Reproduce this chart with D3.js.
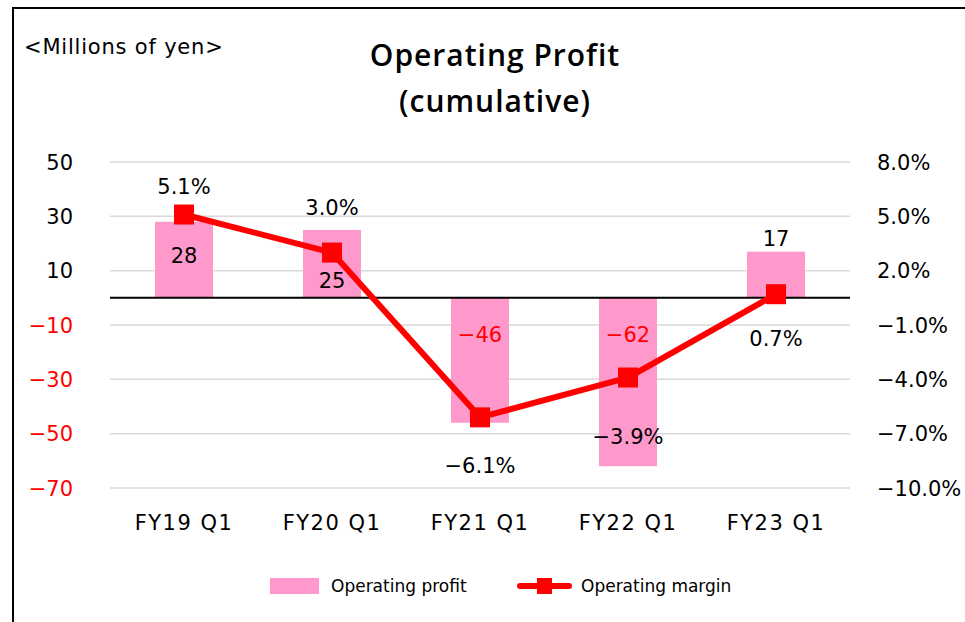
<!DOCTYPE html>
<html>
<head>
<meta charset="utf-8">
<script src="https://cdn.jsdelivr.net/npm/d3@7"></script>
<style>
  body { margin: 0; background: #fff; }
  svg text { font-family: "DejaVu Sans", sans-serif; }
  svg text.title { font-family: "Open Sans", sans-serif; font-weight: 600; letter-spacing: 1px; }
</style>
</head>
<body>
<div id="chart"></div>
<script>
var categories = ["FY19 Q1", "FY20 Q1", "FY21 Q1", "FY22 Q1", "FY23 Q1"];
var profit = [28, 25, -46, -62, 17];
var margin = [5.1, 3.0, -6.1, -3.9, 0.7];
var leftTicks = [50, 30, 10, -10, -30, -50, -70];
var rightTicks = [8, 5, 2, -1, -4, -7, -10];

var width = 965, height = 622;
var plot = { left: 110, right: 850, top: 162, bottom: 488 };

var svg = d3.select("#chart").append("svg")
   .attr("width", width)
   .attr("height", height);

// frame
svg.append("rect")
   .attr("x", 13).attr("y", 8)
   .attr("width", 1000).attr("height", 700)
   .attr("fill", "none")
   .attr("stroke", "#000")
   .attr("stroke-width", 2);

var xc = d3.scalePoint().domain(categories).range([plot.left, plot.right]).padding(0.5);
var yL = d3.scaleLinear().domain([-70, 50]).range([plot.bottom, plot.top]);
var yR = d3.scaleLinear().domain([-10, 8]).range([plot.bottom, plot.top]);

var barW = 58;
var fs = 21;

function minus(v) { return v < 0 ? "\u2212" + Math.abs(v) : "" + v; }
function pct(v) { return (v < 0 ? "\u2212" : "") + Math.abs(v).toFixed(1) + "%"; }

// gridlines
svg.append("g").selectAll("line")
   .data(leftTicks)
   .enter().append("line")
   .attr("x1", plot.left).attr("x2", plot.right)
   .attr("y1", function(d) {return yL(d)})
   .attr("y2", function(d) {return yL(d)})
   .attr("stroke", "#d9d9d9")
   .attr("stroke-width", 1.5);

// left axis labels
svg.append("g").selectAll("text")
   .data(leftTicks)
   .enter().append("text")
   .attr("x", 73)
   .attr("y", function(d) {return yL(d)})
   .attr("dy", "0.36em")
   .attr("text-anchor", "end")
   .attr("font-size", fs)
   .attr("fill", function(d) {return d < 0 ? "#ff0000" : "#000"})
   .text(minus);

// right axis labels
svg.append("g").selectAll("text")
   .data(rightTicks)
   .enter().append("text")
   .attr("x", 877)
   .attr("y", function(d) {return yR(d)})
   .attr("dy", "0.36em")
   .attr("text-anchor", "start")
   .attr("font-size", fs)
   .attr("fill", "#000")
   .text(pct);

// bars
svg.append("g").selectAll("rect")
   .data(profit)
   .enter().append("rect")
   .attr("x", function(d, i) {return xc(categories[i]) - barW / 2})
   .attr("width", barW)
   .attr("y", function(d) {return yL(Math.max(0, d))})
   .attr("height", function(d) {return Math.abs(yL(d) - yL(0))})
   .attr("fill", "#ff99cc");

// zero line
svg.append("line")
   .attr("x1", plot.left).attr("x2", plot.right)
   .attr("y1", yL(0)).attr("y2", yL(0))
   .attr("stroke", "#000")
   .attr("stroke-width", 2);

// bar labels (placement follows the original layout)
var barLabelDy = [-42, -17, 37, 37, -59];
svg.append("g").selectAll("text")
   .data(profit)
   .enter().append("text")
   .attr("x", function(d, i) {return xc(categories[i])})
   .attr("y", function(d, i) {return yL(0) + barLabelDy[i]})
   .attr("dy", "0.36em")
   .attr("text-anchor", "middle")
   .attr("font-size", fs)
   .attr("fill", function(d) {return d < 0 ? "#ff0000" : "#000"})
   .text(minus);

// margin line
var line = d3.line()
   .x(function(d, i) {return xc(categories[i])})
   .y(function(d) {return yR(d)});

svg.append("path")
   .datum(margin)
   .attr("d", line)
   .attr("fill", "none")
   .attr("stroke", "#ff0000")
   .attr("stroke-width", 6)
   .attr("stroke-linejoin", "round");

svg.append("g").selectAll("rect")
   .data(margin)
   .enter().append("rect")
   .attr("x", function(d, i) {return xc(categories[i]) - 10})
   .attr("y", function(d) {return yR(d) - 10})
   .attr("width", 20).attr("height", 20)
   .attr("fill", "#ff0000");

var marginLabelDy = [-28, -45, 48, 59, 44];
svg.append("g").selectAll("text")
   .data(margin)
   .enter().append("text")
   .attr("x", function(d, i) {return xc(categories[i])})
   .attr("y", function(d, i) {return yR(d) + marginLabelDy[i]})
   .attr("dy", "0.36em")
   .attr("text-anchor", "middle")
   .attr("font-size", fs)
   .attr("fill", "#000")
   .text(pct);

// category labels
svg.append("g").selectAll("text")
   .data(categories)
   .enter().append("text")
   .attr("x", function(d) {return xc(d)})
   .attr("y", 522)
   .attr("dy", "0.36em")
   .attr("text-anchor", "middle")
   .attr("font-size", fs)
   .attr("letter-spacing", 1.5)
   .text(function(d) {return d});

// titles
svg.append("text")
   .attr("x", 24).attr("y", 46)
   .attr("dy", "0.36em")
   .attr("font-size", fs)
   .attr("letter-spacing", 0.8)
   .text("<Millions of yen>");

svg.append("text")
   .attr("class", "title")
   .attr("x", 495).attr("y", 55)
   .attr("dy", "0.36em")
   .attr("text-anchor", "middle")
   .attr("font-size", 30)
   .text("Operating Profit");

svg.append("text")
   .attr("class", "title")
   .attr("x", 495).attr("y", 101)
   .attr("dy", "0.36em")
   .attr("text-anchor", "middle")
   .attr("font-size", 30)
   .text("(cumulative)");

// legend
var legend = svg.append("g");
legend.append("rect")
   .attr("x", 270).attr("y", 578)
   .attr("width", 49).attr("height", 16)
   .attr("fill", "#ff99cc");
legend.append("text")
   .attr("x", 331).attr("y", 586)
   .attr("dy", "0.36em")
   .attr("font-size", 17)
   .text("Operating profit");
legend.append("line")
   .attr("x1", 520).attr("x2", 569)
   .attr("y1", 586).attr("y2", 586)
   .attr("stroke", "#ff0000")
   .attr("stroke-width", 6)
   .attr("stroke-linecap", "round");
legend.append("rect")
   .attr("x", 537).attr("y", 578)
   .attr("width", 15).attr("height", 16)
   .attr("fill", "#ff0000");
legend.append("text")
   .attr("x", 581).attr("y", 586)
   .attr("dy", "0.36em")
   .attr("font-size", 17)
   .text("Operating margin");
</script>
</body>
</html>
